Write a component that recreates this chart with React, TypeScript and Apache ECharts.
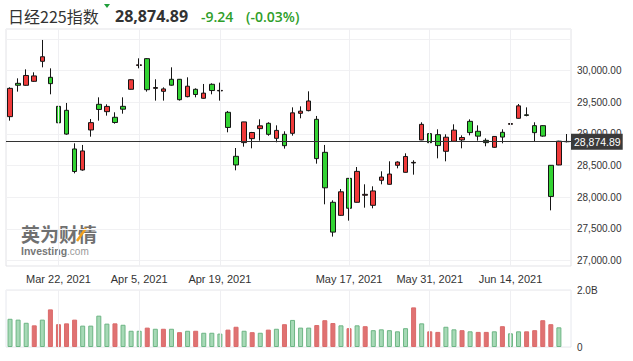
import React, { useEffect, useRef } from 'react';
import * as echarts from 'echarts';

const title = '日经225指数';
const lastChange = -9.24;
const lastChangePct = -0.03;
const prevClose = 29211.64;

const dates = [
  'Mar 12, 2021', 'Mar 15, 2021', 'Mar 16, 2021', 'Mar 17, 2021', 'Mar 18, 2021', 'Mar 19, 2021', 'Mar 22, 2021',
  'Mar 23, 2021', 'Mar 24, 2021', 'Mar 25, 2021', 'Mar 26, 2021', 'Mar 29, 2021', 'Mar 30, 2021', 'Mar 31, 2021',
  'Apr 1, 2021', 'Apr 2, 2021', 'Apr 5, 2021', 'Apr 6, 2021', 'Apr 7, 2021', 'Apr 8, 2021', 'Apr 9, 2021',
  'Apr 12, 2021', 'Apr 13, 2021', 'Apr 14, 2021', 'Apr 15, 2021', 'Apr 16, 2021', 'Apr 19, 2021', 'Apr 20, 2021',
  'Apr 21, 2021', 'Apr 22, 2021', 'Apr 23, 2021', 'Apr 26, 2021', 'Apr 27, 2021', 'Apr 28, 2021', 'Apr 30, 2021',
  'May 6, 2021', 'May 7, 2021', 'May 10, 2021', 'May 11, 2021', 'May 12, 2021', 'May 13, 2021', 'May 14, 2021',
  'May 17, 2021', 'May 18, 2021', 'May 19, 2021', 'May 20, 2021', 'May 21, 2021', 'May 24, 2021', 'May 25, 2021',
  'May 26, 2021', 'May 27, 2021', 'May 28, 2021', 'May 31, 2021', 'Jun 1, 2021', 'Jun 2, 2021', 'Jun 3, 2021',
  'Jun 4, 2021', 'Jun 7, 2021', 'Jun 8, 2021', 'Jun 9, 2021', 'Jun 10, 2021', 'Jun 11, 2021', 'Jun 14, 2021',
  'Jun 15, 2021', 'Jun 16, 2021', 'Jun 17, 2021', 'Jun 18, 2021', 'Jun 21, 2021', 'Jun 22, 2021', 'Jun 23, 2021',
];

const opens = [
  29271, 29797, 29766, 29829, 30145, 29892, 29434, 29371, 28761, 28429,
  29061, 29466, 29350, 29261, 29434, 29703, 30080, 30187, 29718, 29671,
  29861, 29861, 29587, 29703, 29561, 29782, 29678, 29340, 28645, 28861,
  28924, 29082, 29166, 28929, 28992, 29008, 29324, 29366, 29229, 28708,
  27919, 27713, 28297, 27919, 28030, 27871, 28266, 28203, 28503, 28392,
  28540, 28903, 29003, 28987, 28724, 28882, 28903, 29197, 29040, 28897,
  28787, 29024, 29150, 29245, 29300, 29129, 29129, 28503, 28508, 28880,
];

const closes = [
  29717.83, 29766.97, 29921.09, 29914.33, 30216.75, 29792.05, 29174.15, 28995.92, 28405.52, 28729.88,
  29176.70, 29384.52, 29432.70, 29178.80, 29388.87, 29854.00, 30089.25, 29696.63, 29730.79, 29708.98,
  29768.06, 29538.73, 29751.61, 29620.99, 29642.69, 29683.37, 29685.37, 29100.38, 28508.55, 29188.17,
  29020.63, 29126.23, 28991.89, 29053.97, 28812.63, 29331.37, 29357.82, 29518.34, 28608.59, 28147.51,
  27448.01, 28084.47, 27824.83, 28406.84, 28044.45, 28098.25, 28317.83, 28364.61, 28553.98, 28642.19,
  28549.01, 29149.41, 28860.08, 28814.34, 28946.14, 29058.11, 28941.52, 29019.24, 28963.56, 28860.80,
  28958.56, 28948.73, 29161.80, 29441.30, 29291.01, 29018.33, 28964.08, 28010.93, 28884.13, 28874.89,
];

const lows = [
  29208, 29666, 29760, 29820, 30050, 29624, 29113, 28985, 28376, 28418,
  28955, 29208, 29287, 29160, 29318, 29698, 30034, 29666, 29524, 29524,
  29760, 29525, 29576, 29576, 29555, 29624, 29524, 29024, 28424, 28797,
  28771, 28892, 28970, 28866, 28766, 28971, 29245, 29355, 28529, 27887,
  27377, 27705, 27629, 27915, 27834, 27824, 28203, 28198, 28455, 28388,
  28355, 28900, 28797, 28613, 28566, 28878, 28771, 28976, 28892, 28803,
  28780, 28850, 29024, 29240, 29276, 28876, 28955, 27792, 28505, 28865,
];

const highs = [
  29734, 29876, 30018, 29971, 30482, 30034, 29471, 29487, 28850, 28824,
  29234, 29576, 29466, 29340, 29576, 29861, 30192, 30197, 29861, 29734,
  30050, 29865, 29892, 29718, 29787, 29797, 29808, 29361, 28776, 29190,
  29030, 29229, 29182, 29134, 29040, 29418, 29434, 29671, 29282, 28824,
  27950, 28129, 28300, 28476, 28203, 28171, 28408, 28566, 28566, 28692,
  28582, 29182, 29129, 29071, 28992, 29150, 28976, 29229, 29134, 28929,
  28960, 29071, 29208, 29471, 29418, 29182, 29135, 28505, 28890, 28997,
];

// volume, in billions of shares
const volumes = [
  0.99, 0.96, 0.85, 0.76, 0.96, 1.32, 0.80, 0.83, 0.96, 0.75,
  0.75, 1.10, 0.82, 0.83, 0.78, 0.57, 0.57, 0.68, 0.64, 0.64,
  0.64, 0.52, 0.57, 0.57, 0.50, 0.50, 0.47, 0.61, 0.71, 0.57,
  0.52, 0.50, 0.61, 0.64, 0.80, 0.95, 0.68, 0.68, 0.77, 0.94,
  0.84, 0.76, 0.66, 0.76, 0.73, 0.59, 0.62, 0.59, 0.55, 0.66,
  1.39, 0.83, 0.55, 0.53, 0.71, 0.62, 0.59, 0.55, 0.53, 0.53,
  0.55, 0.73, 0.48, 0.55, 0.55, 0.59, 0.94, 0.80, 0.69,
];

const dateTicks = ['Mar 22, 2021', 'Apr 5, 2021', 'Apr 19, 2021', 'May 17, 2021', 'May 31, 2021', 'Jun 14, 2021'];
const priceLabels = [27000, 27500, 28000, 28500, 29000, 29500, 30000];
const volumeLabels = [0, 2];

const UP = '#ef3a3a';
const DOWN = '#33d333';
const GREEN_TEXT = '#2f9e2a';
const LATIN = 'Arial, "Liberation Sans", sans-serif';

const fmtPrice = (v: number) =>
  v.toLocaleString('en-US', { minimumFractionDigits: 2, maximumFractionDigits: 2 });

export default function App() {
  const ref = useRef<HTMLDivElement>(null);

  useEffect(() => {
    if (!ref.current) return;
    const chart = echarts.init(ref.current, null, { renderer: 'svg' });
    const last = closes[closes.length - 1];

    const gridLineSeries = (axisIndex: number) => ({
      type: 'line',
      xAxisIndex: axisIndex,
      yAxisIndex: axisIndex,
      data: dates.map(() => '-'),
      silent: true,
      z: 1,
      showSymbol: false,
      markLine: {
        silent: true,
        symbol: ['none', 'none'],
        label: { show: false },
        lineStyle: { color: '#efeff2', width: 1, type: 'solid' },
        data: dateTicks.map((d) => ({ xAxis: d })),
      },
    });

    chart.setOption({
      animation: false,
      backgroundColor: '#fff',
      grid: [
        { left: 6, right: 62, top: 29, bottom: 95, show: true, borderColor: '#e2e2e6', borderWidth: 1 },
        { left: 6, right: 62, top: 290, bottom: 14, show: true, borderColor: '#e6e8ee', borderWidth: 1 },
      ],
      xAxis: [
        {
          type: 'category',
          gridIndex: 0,
          data: dates,
          boundaryGap: true,
          axisLine: { show: false },
          axisTick: { show: false },
          splitLine: { show: false },
          axisLabel: {
            interval: (i: number, v: string) => dateTicks.includes(v),
            color: '#333',
            fontSize: 11,
            fontFamily: LATIN,
            margin: 7,
          },
        },
        {
          type: 'category',
          gridIndex: 1,
          data: dates,
          boundaryGap: true,
          axisLine: { show: false },
          axisTick: { show: false },
          axisLabel: { show: false },
          splitLine: { show: false },
        },
      ],
      yAxis: [
        {
          type: 'value',
          gridIndex: 0,
          position: 'right',
          min: 26913,
          max: 30655,
          splitNumber: 7,
          axisLine: { show: false },
          axisTick: { show: false },
          splitLine: { show: true, lineStyle: { color: '#f1f1f3', width: 1 } },
          axisLabel: {
            color: '#333',
            fontSize: 10,
            fontFamily: LATIN,
            margin: 6,
            formatter: (v: number) => (priceLabels.includes(v) ? fmtPrice(v) : ''),
          },
        },
        {
          type: 'value',
          gridIndex: 1,
          position: 'right',
          min: 0,
          max: 2,
          interval: 2,
          axisLine: { show: false },
          axisTick: { show: false },
          splitLine: { show: true, lineStyle: { color: '#f1f1f3', width: 1 } },
          axisLabel: {
            color: '#333',
            fontSize: 10,
            fontFamily: LATIN,
            margin: 6,
            formatter: (v: number) => (volumeLabels.includes(v) ? (v === 0 ? '0' : v.toFixed(1) + 'B') : ''),
          },
        },
      ],
      series: [
        gridLineSeries(0),
        gridLineSeries(1),
        {
          type: 'candlestick',
          xAxisIndex: 0,
          yAxisIndex: 0,
          z: 3,
          barWidth: 5,
          data: dates.map((_, i) => [opens[i], closes[i], lows[i], highs[i]]),
          itemStyle: {
            color: UP,
            color0: DOWN,
            borderColor: '#151515',
            borderColor0: '#151515',
            borderWidth: 1,
          },
          markLine: {
            silent: true,
            symbol: ['none', 'none'],
            lineStyle: { color: '#333', width: 1, type: 'solid' },
            label: {
              show: true,
              position: 'end',
              distance: 0,
              formatter: () => fmtPrice(last),
              backgroundColor: '#3a3a3a',
              color: '#fff',
              fontSize: 10.5,
              fontFamily: LATIN,
              padding: [3, 2, 2, 3],
            },
            data: [{ yAxis: last }],
          },
        },
        {
          type: 'bar',
          xAxisIndex: 1,
          yAxisIndex: 1,
          z: 3,
          barWidth: 5,
          data: volumes.map((v, i) => {
            const up = closes[i] >= (i === 0 ? prevClose : closes[i - 1]);
            return {
              value: v,
              itemStyle: up
                ? { color: '#a6d9b6', borderColor: '#6db584', borderWidth: 1 }
                : { color: '#e07272', borderColor: '#da6a6a', borderWidth: 1 },
            };
          }),
        },
      ],
      graphic: [
        {
          type: 'text',
          x: 8,
          y: 16,
          style: {
            text: title,
            fill: '#333',
            font: '16px "Noto Sans CJK SC", "Noto Sans", sans-serif',
            verticalAlign: 'middle',
          },
        },
        {
          type: 'polygon',
          shape: { points: [[104, 4], [110, 4], [107, 8]] },
          style: { fill: '#1f9e3a' },
        },
        {
          type: 'text',
          x: 115,
          y: 16,
          style: {
            text: fmtPrice(last),
            fill: '#333',
            font: 'bold 16px "Open Sans", "Noto Sans", sans-serif',
            verticalAlign: 'middle',
          },
        },
        {
          type: 'text',
          x: 201,
          y: 16,
          style: {
            text: lastChange.toFixed(2),
            fill: GREEN_TEXT,
            font: '600 14px "Open Sans", "Noto Sans", sans-serif',
            verticalAlign: 'middle',
          },
        },
        {
          type: 'text',
          x: 246,
          y: 16,
          style: {
            text: '(' + lastChangePct.toFixed(2) + '%)',
            fill: GREEN_TEXT,
            font: '600 14px "Open Sans", "Noto Sans", sans-serif',
            verticalAlign: 'middle',
          },
        },
        {
          type: 'text',
          x: 21,
          y: 233,
          z: 0,
          style: {
            text: '英为财情',
            fill: '#707070',
            font: 'bold 19px "Noto Sans CJK SC", sans-serif',
            verticalAlign: 'middle',
          },
        },
        {
          type: 'line',
          z: 0,
          shape: { x1: 77, y1: 241, x2: 86, y2: 228 },
          style: { stroke: '#f0a020', lineWidth: 2.5 },
        },
        {
          type: 'text',
          x: 21,
          y: 251,
          z: 0,
          style: {
            text: '{a|Investing}{b|.com}',
            verticalAlign: 'middle',
            rich: {
              a: { fill: '#777', font: 'bold 10.5px Arial, "Liberation Sans", sans-serif' },
              b: { fill: '#999', font: '10px Arial, "Liberation Sans", sans-serif' },
            },
          },
        },
      ],
    });

    return () => chart.dispose();
  }, []);

  return (
    <div
      ref={ref}
      style={{ position: 'fixed', left: 0, top: 0, width: 633, height: 361, background: '#fff' }}
    />
  );
}
